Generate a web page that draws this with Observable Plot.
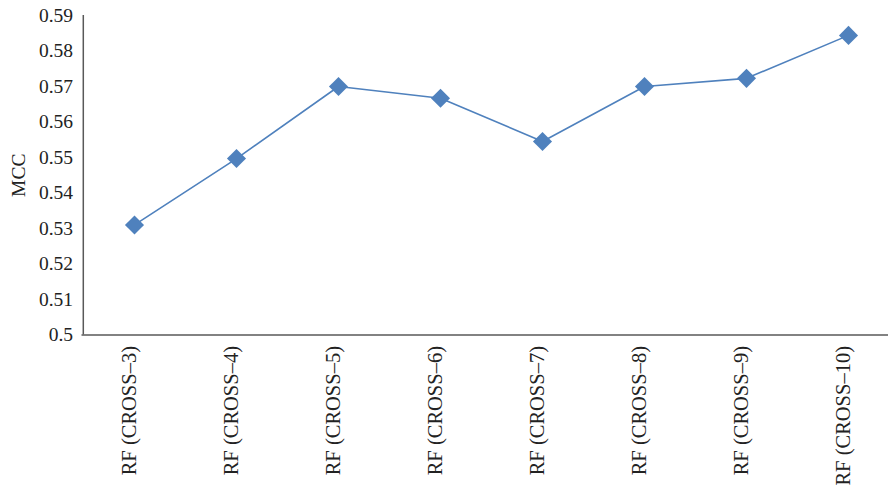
<!DOCTYPE html>
<html>
<head>
<meta charset="utf-8">
<script src="https://cdn.jsdelivr.net/npm/d3@7"></script>
<script src="https://cdn.jsdelivr.net/npm/@observablehq/plot@0.6"></script>
<style>
  html, body { margin: 0; padding: 0; background: #fff; }
  #chart svg { display: block; }
</style>
</head>
<body>
<div id="chart"></div>
<script>
const categories = ["RF (CROSS–3)", "RF (CROSS–4)", "RF (CROSS–5)", "RF (CROSS–6)", "RF (CROSS–7)", "RF (CROSS–8)", "RF (CROSS–9)", "RF (CROSS–10)"];
const mcc = [0.5310, 0.5497, 0.5700, 0.5667, 0.5545, 0.5700, 0.5723, 0.5844];
const yTicks = [0.5, 0.51, 0.52, 0.53, 0.54, 0.55, 0.56, 0.57, 0.58, 0.59];
const yTickLabels = ["0.5", "0.51", "0.52", "0.53", "0.54", "0.55", "0.56", "0.57", "0.58", "0.59"];
const yLabel = "MCC";

const data = categories.map((c, i) => ({cat: c, v: mcc[i]}));
const font = "'Liberation Serif', 'DejaVu Serif', serif";
const blue = "#4f81bd";
const axisColor = "#595959";

const chart = Plot.plot({
  width: 888,
  height: 488,
  marginTop: 15,
  marginBottom: 153.5,
  marginLeft: 81.5,
  marginRight: 0,
  style: {fontFamily: font, fontSize: "19px", color: "#222", background: "#fff"},
  x: {type: "band", domain: categories, range: [81.5, 900.5], padding: 0},
  y: {domain: [0.5, 0.59], range: [334.5, 15]},
  marks: [
    Plot.axisY({ticks: yTicks, tickFormat: (d) => yTickLabels[yTicks.indexOf(d)] ?? "", tickSize: 0, tickPadding: 9, fontSize: 19.5, label: null}),
    Plot.text([yLabel], {frameAnchor: "left", textAnchor: "middle", dx: -63, rotate: -90, fontSize: 19.5, fill: "#222"}),
    Plot.axisX({tickRotate: -90, tickSize: 0, tickPadding: 11, dx: -5, fontSize: 20.5, label: null}),
    Plot.ruleX([0], {x: () => categories[0], dx: -51.2, y1: 0.5, y2: 0.59, stroke: axisColor, strokeWidth: 1.5}),
    Plot.ruleY([0.5], {stroke: axisColor, strokeWidth: 1.5}),
    Plot.line(data, {x: "cat", y: "v", stroke: blue, strokeWidth: 1.6}),
    Plot.dot(data, {x: "cat", y: "v", symbol: "diamond2", r: 8.6, fill: blue, stroke: "none"})
  ]
});
document.getElementById("chart").appendChild(chart);
</script>
</body>
</html>
